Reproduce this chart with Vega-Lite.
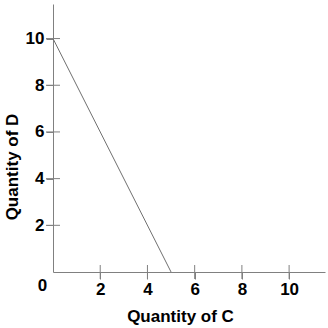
{
  "$schema": "https://vega.github.io/schema/vega-lite/v6.json",
  "width": 272,
  "height": 268,
  "autosize": {"type": "none"},
  "padding": {"left": 53, "top": 4, "right": 3, "bottom": 56},
  "background": "white",
  "config": {
    "view": {"stroke": null},
    "axis": {
      "domainColor": "#808080",
      "tickColor": "#808080",
      "domainWidth": 1,
      "tickWidth": 1,
      "grid": false,
      "labelFlush": false,
      "labelFont": "Liberation Sans",
      "labelFontSize": 17,
      "labelFontWeight": "bold",
      "labelColor": "#000000",
      "titleFont": "Liberation Sans",
      "titleFontSize": 17,
      "titleFontWeight": "bold",
      "titleColor": "#000000",
      "tickSize": 7,
      "labelPadding": 3
    }
  },
  "datasets": {
    "line": [{"c": 0, "d": 10}, {"c": 5, "d": 0}],
    "xticks": [{"c": 2}, {"c": 4}, {"c": 6}, {"c": 8}, {"c": 10}],
    "yticks": [{"d": 2}, {"d": 4}, {"d": 6}, {"d": 8}, {"d": 10}]
  },
  "layer": [
    {
      "data": {"name": "line"},
      "mark": {"type": "line", "color": "#707070", "strokeWidth": 1},
      "encoding": {
        "x": {
          "field": "c",
          "type": "quantitative",
          "scale": {"domain": [0, 11.52], "nice": false, "zero": false},
          "axis": {
            "title": "Quantity of C",
            "values": [0, 2, 4, 6, 8, 10],
            "tickOpacity": {"condition": {"test": "datum.value === 0", "value": 0}, "value": 1},
            "labelOffset": {"condition": {"test": "datum.value === 0", "value": -11}, "value": 0},
            "labelPadding": {"condition": {"test": "datum.value === 0", "value": -2}, "value": 2},
            "titleX": 127,
            "titleY": 49,
            "titleBaseline": "alphabetic",
            "titleAnchor": "middle"
          }
        },
        "y": {
          "field": "d",
          "type": "quantitative",
          "scale": {"domain": [0, 11.48], "nice": false, "zero": false},
          "axis": {
            "title": "Quantity of D",
            "values": [2, 4, 6, 8, 10],
            "labelPadding": 2,
            "titleX": -36,
            "titleY": 162.5,
            "titleBaseline": "alphabetic",
            "titleAnchor": "middle"
          }
        }
      }
    },
    {
      "data": {"name": "xticks"},
      "mark": {"type": "tick", "orient": "vertical", "size": 14, "thickness": 1, "color": "#808080", "opacity": 1},
      "encoding": {
        "x": {"field": "c", "type": "quantitative"},
        "y": {"datum": 0, "type": "quantitative"}
      }
    },
    {
      "data": {"name": "yticks"},
      "mark": {"type": "tick", "orient": "horizontal", "size": 14, "thickness": 1, "color": "#808080", "opacity": 1},
      "encoding": {
        "x": {"datum": 0, "type": "quantitative"},
        "y": {"field": "d", "type": "quantitative"}
      }
    }
  ]
}
